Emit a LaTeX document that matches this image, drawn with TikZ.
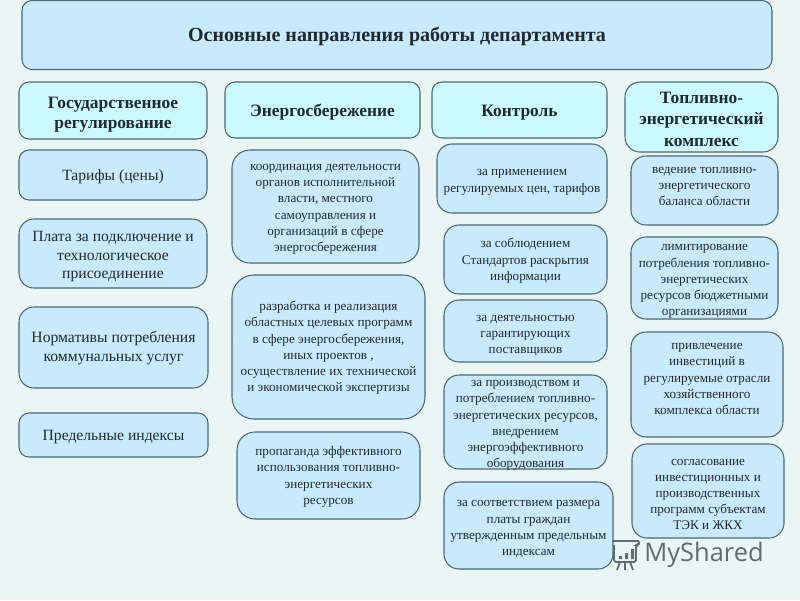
\documentclass[tikz,border=0pt]{standalone}
\usepackage{fontspec}
\setmainfont{Liberation Serif}
\setsansfont{Open Sans}
\definecolor{pagebg}{HTML}{E9F6F4}
\definecolor{itemfill}{HTML}{C9E9FC}
\definecolor{headfill}{HTML}{CBFBFF}
\definecolor{edgecol}{HTML}{4A6872}
\definecolor{inkcol}{HTML}{1F2A2E}
\definecolor{markcol}{HTML}{5C6E6C}
\newcommand{\lowtext}[1]{\rule{0pt}{#1em}}
\newcommand{\hightext}[1]{\rule[-#1em]{0pt}{#1em}}
\tikzset{
  sized/.style 2 args={minimum width=#1*0.02cm,minimum height=#2*0.02cm},
  basebox/.style={draw=edgecol,line width=0.6pt,rounded corners=0.2cm,align=center,
    inner sep=0pt,text=inkcol},
  headbox/.style={basebox,fill=headfill,font=\bfseries\fontsize{9.9}{11.6}\selectfont},
  leftbox/.style={basebox,fill=itemfill,font=\fontsize{8.9}{10.5}\selectfont},
  itembox/.style={basebox,fill=itemfill,rounded corners=0.3cm,font=\fontsize{7.5}{9.2}\selectfont},
  itemtext/.style={align=center,inner sep=0pt,text=inkcol,font=\fontsize{7.5}{9.2}\selectfont},
}
\begin{document}
\begin{tikzpicture}[x=0.02cm,y=-0.02cm]
\fill[pagebg] (0,0) rectangle (800,600);
\useasboundingbox (0,0) rectangle (800,600);

% title
\node[headbox,fill=itemfill,sized={750}{69},font=\bfseries\fontsize{11.4}{13}\selectfont] (title) at (397,35) {\lowtext{.85}Основные направления работы департамента};

% column heads
\node[headbox,sized={188}{57}] (gos) at (113,110.5) {\lowtext{1.12}Государственное\\регулирование};
\node[headbox,sized={195}{56}] (energy) at (322.5,110) {\lowtext{1}Энергосбережение};
\node[headbox,sized={175}{56}] (control) at (519.5,110) {\lowtext{1}Контроль};
\node[headbox,sized={153}{70},rounded corners=0.3cm,font=\bfseries\fontsize{9.9}{12.2}\selectfont] (tek) at (701.5,117) {\lowtext{.9}Топливно-\\энергетический\\комплекс};

% first column
\node[leftbox,sized={188}{50}] (tarif) at (113,175) {\lowtext{.95}Тарифы (цены)};
\node[leftbox,sized={188}{69},rounded corners=0.3cm] (plata) at (113,253.5) {\lowtext{1.05}Плата за подключение и\\технологическое\\присоединение};
\node[leftbox,sized={189}{81},rounded corners=0.3cm] (norm) at (113.5,347.5) {\lowtext{.8}Нормативы потребления\\коммунальных услуг};
\node[leftbox,sized={189}{44}] (index) at (113.5,435) {\lowtext{.95}Предельные индексы};

% second column
\node[itembox,sized={187}{113},rounded corners=0.36cm] (coord) at (325.5,206.5) {\lowtext{.9}координация деятельности\\органов исполнительной\\власти, местного\\самоуправления и\\организаций в сфере\\энергосбережения};
\node[itembox,sized={193}{144},rounded corners=0.44cm] (razrab) at (328.5,347) {\lowtext{.85}разработка и реализация\\областных целевых программ\\в сфере энергосбережения,\\иных проектов ,\\осуществление их технической\\и экономической экспертизы};
\node[itembox,sized={183}{87},rounded corners=0.36cm] (propag) at (328.5,475.5) {\lowtext{.9}пропаганда эффективного\\использования топливно-\\энергетических\\ресурсов};

% third column
\node[itembox,sized={170}{69}] (primen) at (522,178.5) {\lowtext{1.05}за применением\\регулируемых цен, тарифов};
\node[itembox,sized={163}{69}] (stand) at (525.5,259.5) {\lowtext{.9}за соблюдением\\Стандартов раскрытия\\информации};
\node[itembox,sized={163}{62}] (postav) at (525.5,331) {\lowtext{1.2}за деятельностью\\гарантирующих\\поставщиков};
\node[itembox,sized={163}{94}] (proizv) at (525.5,422) {};
\node[itemtext] (proizvtext) at (525.5,425.5) {за производством и\\потреблением топливно-\\энергетических ресурсов,\\внедрением\\энергоэффективного\\оборудования};
\node[itembox,sized={169}{87}] (razmer) at (528.5,525.5) {\lowtext{1.05}за соответствием размера\\платы  граждан\\утвержденным предельным\\индексам};

% fourth column
\node[itembox,sized={147}{69}] (balans) at (704.5,190.5) {ведение топливно-\\энергетического\\баланса области\hightext{.6}};
\node[itembox,sized={147}{82}] (limit) at (704.5,278) {\lowtext{1}лимитирование\\потребления топливно-\\энергетических\\ресурсов бюджетными\\организациями};
\node[itembox,sized={152}{105}] (invest) at (707,384.5) {привлечение\\инвестиций в\\регулируемые отрасли\\хозяйственного\\комплекса области\hightext{.83}};
\node[itembox,sized={152}{94}] (soglas) at (708,491) {\lowtext{1}согласование\\инвестиционных и\\производственных\\программ субъектам\\ТЭК и ЖКХ};

% watermark
\node[text=markcol,font=\sffamily\fontsize{14.5}{16}\selectfont,inner sep=0pt] (mark) at (704,555) {MyShared};
\draw[markcol,line width=1pt,rounded corners=1pt] (612,541) -- (640,541) -- (638,545) -- (636,545) -- (636,562) -- (614,562) -- (614,545);
\fill[markcol] (619,556) rectangle (622,559) (625,553) rectangle (628,559) (631,549) rectangle (634,559);
\draw[markcol,line width=1pt] (620,562) -- (617,570) (625,562) -- (625,570) (630,562) -- (633,570);
\end{tikzpicture}
\end{document}
